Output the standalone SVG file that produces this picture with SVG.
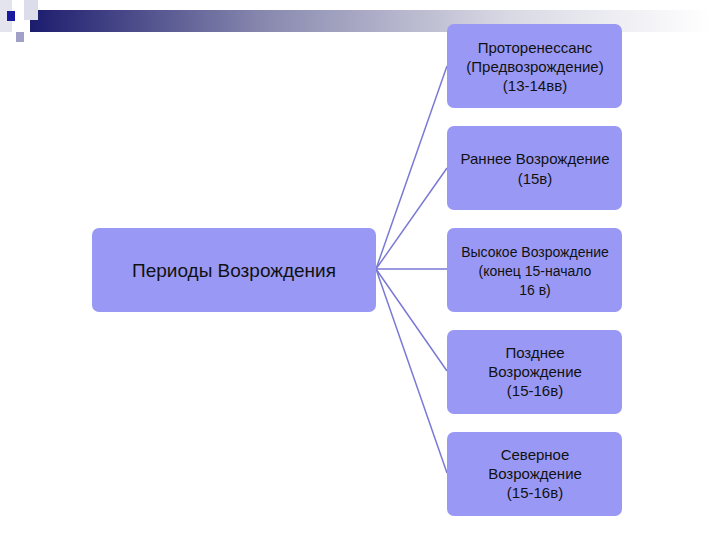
<svg xmlns="http://www.w3.org/2000/svg" width="720" height="540" viewBox="0 0 720 540">
<defs>
<linearGradient id="bar" x1="0" x2="1" y1="0" y2="0">
<stop offset="0" stop-color="#1c1c6e"/>
<stop offset="0.35" stop-color="#8a8ab0"/>
<stop offset="0.7" stop-color="#d8d8e4"/>
<stop offset="1" stop-color="#ffffff"/>
</linearGradient>
<style>
.n{fill:#9999f5;}
.t{font-family:"Liberation Sans",Arial,sans-serif;font-size:15px;fill:#111;text-anchor:middle;}
.c{stroke:#7a7ad6;stroke-width:1.5;fill:none;}
</style>
</defs>
<g id="decor">
<rect x="30" y="10" width="680" height="22" fill="url(#bar)"/>
<rect x="0" y="0" width="12" height="32" fill="#e4e4ee"/>
<rect x="16" y="32" width="8" height="10" fill="#a0a0c8"/>
<rect x="24" y="0" width="14" height="20" fill="#dcdcea"/>
<rect x="7" y="11" width="8" height="10" fill="#1a1aa0"/>
</g>
<g id="connectors">
<path class="c" d="M376 269L447 66M376 269L447 168M376 269L447 269M376 269L447 371M376 269L447 473"/>
</g>
<g id="main"><rect class="n" x="92" y="228" width="284" height="84" rx="7"/><text class="t" x="234" y="277" style="font-size:19px">Периоды Возрождения</text></g>
<g id="n1"><rect class="n" x="447" y="24" width="175" height="84" rx="7"/><text class="t" x="535" y="53">Проторенессанс</text><text class="t" x="535" y="72">(Предвозрождение)</text><text class="t" x="535" y="91">(13-14вв)</text></g>
<g id="n2"><rect class="n" x="447" y="126" width="175" height="84" rx="7"/><text class="t" x="535" y="164">Раннее Возрождение</text><text class="t" x="535" y="184">(15в)</text></g>
<g id="n3"><rect class="n" x="447" y="228" width="175" height="84" rx="7"/><text class="t" x="535" y="257" style="font-size:14px">Высокое Возрождение</text><text class="t" x="535" y="276" style="font-size:14px">(конец 15-начало</text><text class="t" x="535" y="295" style="font-size:14px">16 в)</text></g>
<g id="n4"><rect class="n" x="447" y="330" width="175" height="84" rx="7"/><text class="t" x="535" y="358">Позднее</text><text class="t" x="535" y="377">Возрождение</text><text class="t" x="535" y="396">(15-16в)</text></g>
<g id="n5"><rect class="n" x="447" y="432" width="175" height="84" rx="7"/><text class="t" x="535" y="460">Северное</text><text class="t" x="535" y="479">Возрождение</text><text class="t" x="535" y="498">(15-16в)</text></g>
</svg>
